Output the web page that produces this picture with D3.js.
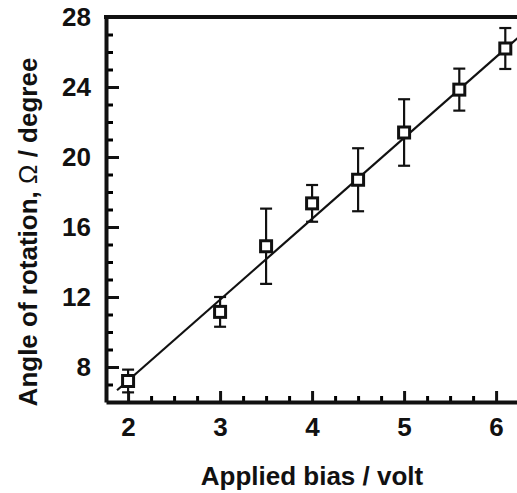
<!DOCTYPE html>
<html>
<head>
<meta charset="utf-8">
<script src="https://cdn.jsdelivr.net/npm/d3@7"></script>
<style>
  body { margin: 0; background: #fff; }
  svg { display: block; font-family: "Liberation Sans", Arial, sans-serif; }
</style>
</head>
<body>
<svg id="chart" width="517" height="493"></svg>
<script>
// measured points
var bias = [2, 3, 3.5, 4, 4.5, 5, 5.6, 6.1];
var angle = [7.2, 11.15, 14.9, 17.35, 18.7, 21.4, 23.85, 26.2];
var err = [0.65, 0.85, 2.15, 1.05, 1.8, 1.9, 1.2, 1.17];
// linear fit end points
var fitX = [1.88, 6.3];
var fitY = [6.67, 27.1];
var xTicks = [2, 3, 4, 5, 6];
var yTicks = [8, 12, 16, 20, 24, 28];

var svg = d3.select("#chart");

var x = d3.scaleLinear().domain([1.76, 6.25]).range([106, 519.1]);
var y = d3.scaleLinear().domain([6, 28]).range([402, 17]);

// minor ticks
var xMinor = d3.range(1.75, 6.26, 0.25).filter(function(v) { return x(v) > 107 && Math.abs(v - Math.round(v)) > 0.01; });
var yMinor = d3.range(7, 28, 1).filter(function(v) { return v % 4 !== 0; });

svg.append("g")
    .attr("transform", "translate(0,402)")
    .call(d3.axisBottom(x).tickValues(xMinor).tickFormat("").tickSizeInner(-6).tickSizeOuter(0))
    .call(function(g) { g.select(".domain").remove(); g.selectAll("line").attr("stroke-width", 3); });

svg.append("g")
    .attr("transform", "translate(106,0)")
    .call(d3.axisLeft(y).tickValues(yMinor).tickFormat("").tickSizeInner(-7).tickSizeOuter(0))
    .call(function(g) { g.select(".domain").remove(); g.selectAll("line").attr("stroke-width", 3); });

// major axes
var xAxis = svg.append("g")
    .attr("transform", "translate(0,402)")
    .call(d3.axisBottom(x).tickValues(xTicks).tickFormat(d3.format("d")).tickSizeInner(-11).tickSizeOuter(0).tickPadding(16));

var yAxis = svg.append("g")
    .attr("transform", "translate(106,0)")
    .call(d3.axisLeft(y).tickValues(yTicks).tickFormat(d3.format("d")).tickSizeInner(-13).tickSizeOuter(0).tickPadding(15));

[xAxis, yAxis].forEach(function(g) {
    g.select(".domain").attr("stroke-width", 4).attr("stroke", "#111");
    g.selectAll(".tick line").attr("stroke-width", 3).attr("stroke", "#111");
    g.selectAll(".tick text")
        .attr("fill", "#111")
        .style("font-size", "26px")
        .style("font-weight", "bold");
});

// top spine
svg.append("line")
    .attr("x1", 104).attr("x2", 517)
    .attr("y1", y(28)).attr("y2", y(28))
    .attr("stroke", "#111").attr("stroke-width", 4);

// fit line
var line = d3.line().x(function(d) { return x(d[0]); }).y(function(d) { return y(d[1]); });
svg.append("path")
    .datum(d3.zip(fitX, fitY))
    .attr("d", line)
    .attr("fill", "none")
    .attr("stroke", "#111")
    .attr("stroke-width", 2.2);

// error bars
var pts = bias.map(function(b, i) { return {x: b, y: angle[i], e: err[i]}; });
var eb = svg.append("g").attr("stroke", "#111").attr("stroke-width", 2.2);
pts.forEach(function(d) {
    var cx = x(d.x);
    eb.append("line").attr("x1", cx).attr("x2", cx).attr("y1", y(d.y - d.e)).attr("y2", y(d.y + d.e));
    eb.append("line").attr("x1", cx - 6).attr("x2", cx + 6).attr("y1", y(d.y - d.e)).attr("y2", y(d.y - d.e));
    eb.append("line").attr("x1", cx - 6).attr("x2", cx + 6).attr("y1", y(d.y + d.e)).attr("y2", y(d.y + d.e));
});

// square markers
svg.append("g").selectAll("rect")
    .data(pts)
    .enter().append("rect")
    .attr("x", function(d) { return x(d.x) - 5.5; })
    .attr("y", function(d) { return y(d.y) - 5.5; })
    .attr("width", 11).attr("height", 11)
    .attr("fill", "#fff")
    .attr("stroke", "#111")
    .attr("stroke-width", 3);

// axis titles
svg.append("text")
    .attr("x", 312).attr("y", 485)
    .attr("text-anchor", "middle")
    .style("font-size", "26px").style("font-weight", "bold")
    .attr("fill", "#111")
    .text("Applied bias / volt");

var yt = svg.append("text")
    .attr("transform", "translate(37,232) rotate(-90)")
    .attr("text-anchor", "middle")
    .style("font-size", "26px").style("font-weight", "bold")
    .attr("fill", "#111");
yt.append("tspan").text("Angle of rotation, ");
yt.append("tspan").style("font-weight", "normal").text("Ω");
yt.append("tspan").text(" / degree");
</script>
</body>
</html>
